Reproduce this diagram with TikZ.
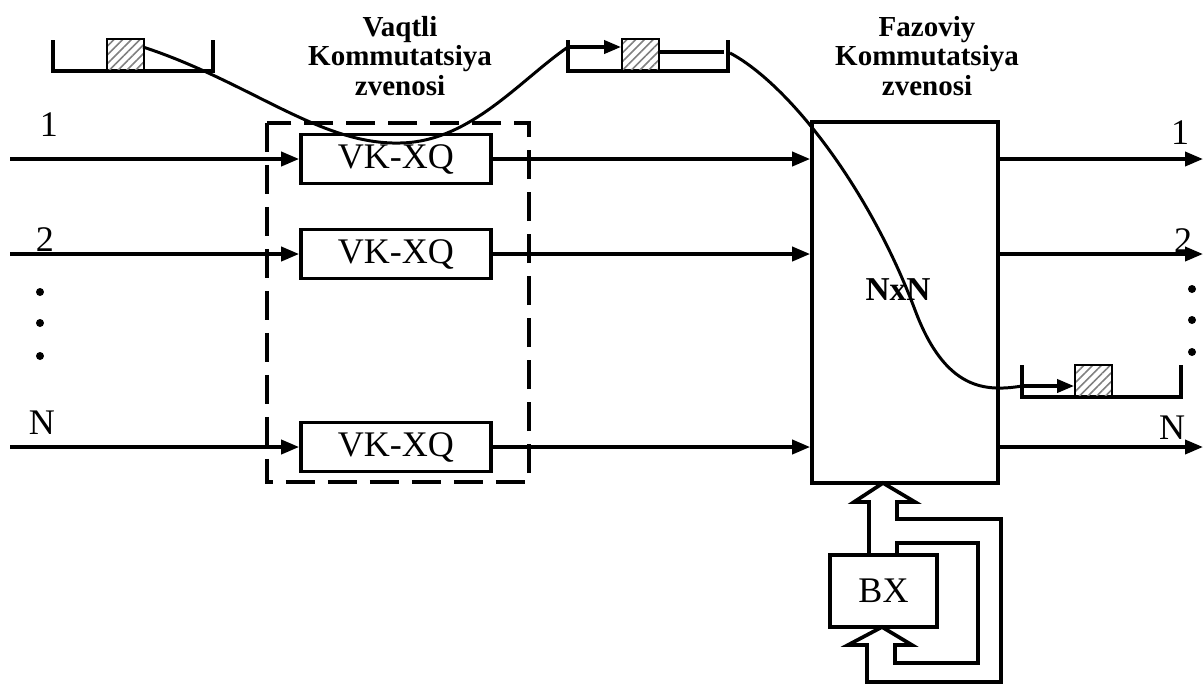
\documentclass[tikz,border=0pt]{standalone}
\usepackage{fontspec}
\setmainfont{Liberation Serif}
\usetikzlibrary{arrows.meta,patterns.meta}

\begin{document}
\begin{tikzpicture}[x=0.02cm,y=-0.02cm,
  blk/.style={draw,line width=2.1pt,minimum width=3.8cm,minimum height=0.98cm,inner sep=0pt,font=\fontsize{20.5}{24}\selectfont},
  lbl/.style={inner sep=0pt,font=\fontsize{20.5}{24}\selectfont},
  hdr/.style={align=center,font=\bfseries\fontsize{16.5}{16.8}\selectfont},
  sig/.style={line width=2.1pt,-{Triangle[length=0.36cm,width=0.28cm]}},
  bufline/.style={line width=2.1pt},
  cell/.style={draw,line width=1pt,minimum width=0.74cm,minimum height=0.64cm,inner sep=0pt,
    pattern={Lines[angle=45,distance=3.5pt,line width=0.9pt]},pattern color=gray}]
\useasboundingbox (0,0) rectangle (1203,684);

% headers
\node[hdr] (hv) at (400,56) {Vaqtli\\Kommutatsiya\\zvenosi};
\node[hdr] (hf) at (927,56) {Fazoviy\\Kommutatsiya\\zvenosi};

% time stage
\draw[dash pattern=on 0.58cm off 0.26cm,line width=2.1pt] (267,123) rectangle (529,482);
\node[blk] (vk1) at (396,159) {VK-XQ};
\node[blk] (vk2) at (396,254) {VK-XQ};
\node[blk] (vkN) at (396,447) {VK-XQ};

% space stage
\node[draw,line width=2.1pt,minimum width=3.72cm,minimum height=7.22cm,inner sep=0pt] (sw) at (905,302.5) {};
\node[inner sep=0pt,font=\bfseries\fontsize{19}{22}\selectfont] (nxn) at (898,290) {NxN};
\node[blk,minimum width=2.14cm,minimum height=1.44cm] (bx) at (883.5,591) {BX};

% inputs
\coordinate (in1) at (10,159);
\coordinate (in2) at (10,254);
\coordinate (inN) at (10,447);
\node[lbl] (l1) at (49,125) {1};
\node[lbl] (l2) at (45,240) {2};
\node[lbl] (lN) at (42,423) {N};
\fill (40,292) circle[radius=0.08cm];
\fill (40,323) circle[radius=0.08cm];
\fill (40,356) circle[radius=0.08cm];
\draw[sig] (in1) -- (vk1.west);
\draw[sig] (in2) -- (vk2.west);
\draw[sig] (inN) -- (vkN.west);
\draw[sig] (vk1.east) -- (vk1.east -| sw.west);
\draw[sig] (vk2.east) -- (vk2.east -| sw.west);
\draw[sig] (vkN.east) -- (vkN.east -| sw.west);

% outputs
\coordinate (out1) at (1203,159);
\coordinate (out2) at (1203,254);
\coordinate (outN) at (1203,447);
\draw[sig] (sw.east |- out1) -- (out1);
\draw[sig] (sw.east |- out2) -- (out2);
\draw[sig] (sw.east |- outN) -- (outN);
\node[lbl] (r1) at (1180,133) {1};
\node[lbl] (r2) at (1183,241) {2};
\node[lbl] (rN) at (1172,428) {N};
\fill (1192,289) circle[radius=0.08cm];
\fill (1192,320) circle[radius=0.08cm];
\fill (1192,352) circle[radius=0.08cm];

% buffers
\draw[bufline] (53,40) -- (53,71) -- (213,71) -- (213,40);
\node[cell] (q1) at (125.5,55) {};
\draw[bufline] (568,40) -- (568,71) -- (728,71) -- (728,40);
\node[cell] (q2) at (640.5,55) {};
\coordinate (b2in) at (568,47);
\draw[sig,-{Triangle[length=0.34cm,width=0.26cm]}] (b2in) -- (q2.west |- b2in);
\draw[bufline] (q2.east |- 0,52) -- (724,52);
\draw[bufline] (1022,365) -- (1022,397) -- (1181,397) -- (1181,365);
\node[cell] (q3) at (1093.5,381) {};
\coordinate (b3in) at (1022,386);
\draw[sig,-{Triangle[length=0.34cm,width=0.26cm]}] (b3in) -- (q3.west |- b3in);

% slot path
\coordinate (s1) at (143,47);
\coordinate (s2) at (730,53);
\draw[line width=1.7pt] (s1) .. controls (250,82) and (320,145) .. (400,143)
  .. controls (470,142) and (520,80) .. (b2in);
\draw[line width=1.7pt] (s2) .. controls (790,85) and (870,190) .. (915,310)
  .. controls (945,390) and (985,392) .. (b3in);

% control loop
\draw[line width=2.1pt,line join=miter]
  (869,555) -- (869,502) -- (854,502) -- (883,483) -- (915,502) -- (897,502)
  -- (897,519) -- (1001,519) -- (1001,682) -- (867,682) -- (867,645)
  -- (848,645) -- (882,627) -- (912,645) -- (895,645) -- (895,663)
  -- (978,663) -- (978,543) -- (897,543) -- (897,555);
\end{tikzpicture}
\end{document}
